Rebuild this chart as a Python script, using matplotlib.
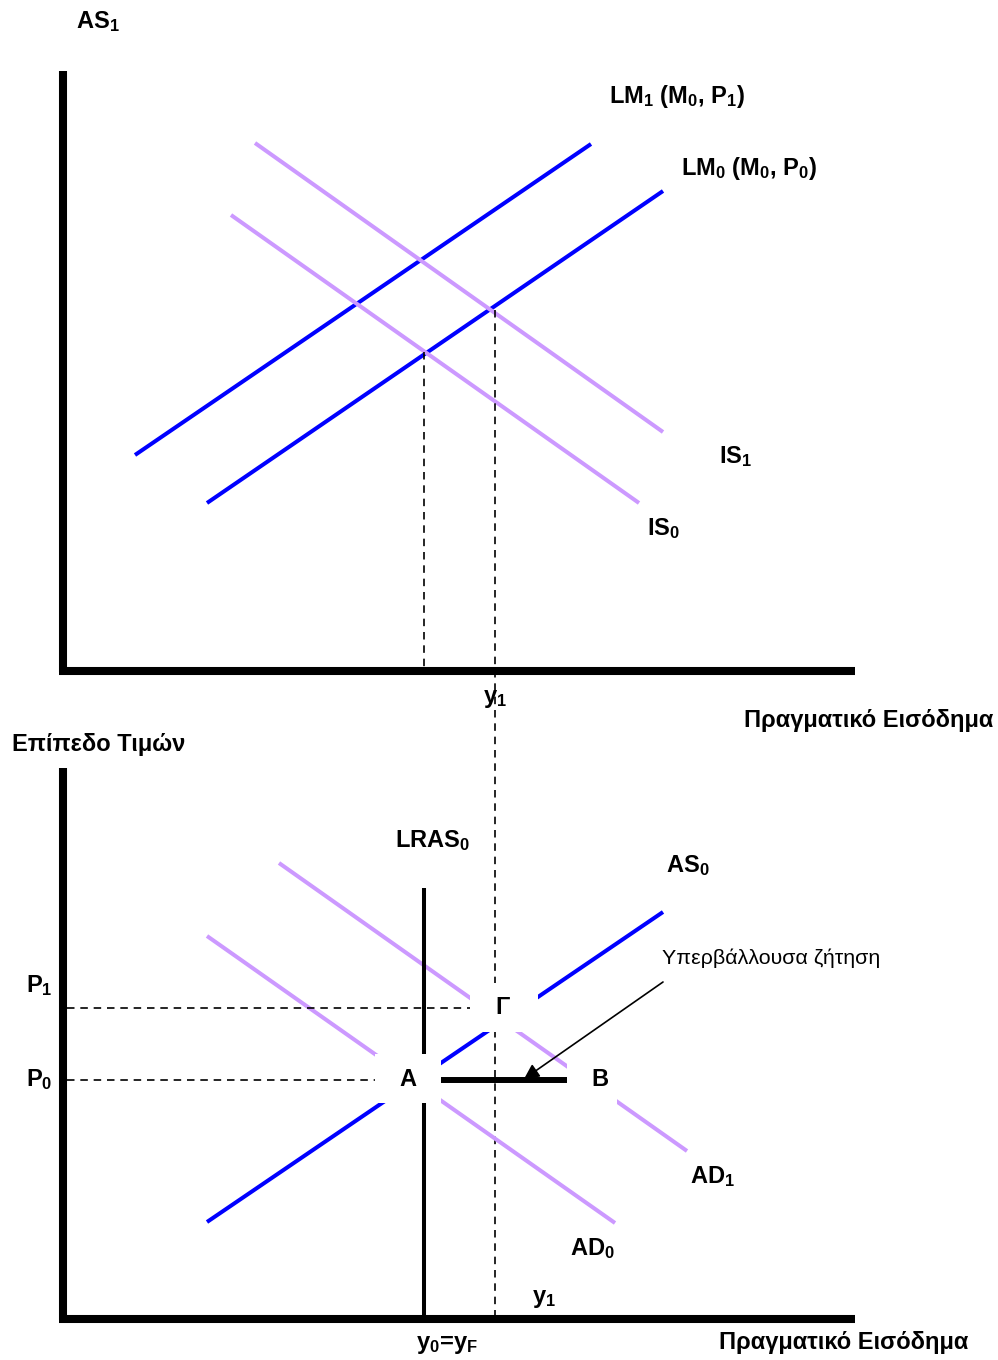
import matplotlib
matplotlib.use('Agg')
import matplotlib.pyplot as plt
import matplotlib.patches as patches

plt.rcParams['font.family'] = ['Liberation Sans', 'DejaVu Sans']
plt.rcParams['mathtext.fontset'] = 'custom'
plt.rcParams['mathtext.rm'] = 'Liberation Sans:bold'
plt.rcParams['mathtext.it'] = 'Liberation Sans:bold'
plt.rcParams['mathtext.bf'] = 'Liberation Sans:bold'
plt.rcParams['mathtext.default'] = 'bf'

# ---- diagram geometry (page pixel units, y grows downward) ----
# upper panel: IS-LM
lm_x = [[135, 591], [207, 663]]          # LM1, LM0
lm_y = [[455, 144], [503, 191]]
is_x = [[255, 663], [231, 639]]          # IS1, IS0
is_y = [[143, 432], [215, 503]]

# lower panel: AD-AS
as_x = [207, 663]
as_y = [1222, 912]
ad_x = [[279, 687], [207, 615]]          # AD1, AD0
ad_y = [[863, 1151], [936, 1223]]
lras_x = 424
lras_top = 888

# reference levels
y0_x = 424
y1_x = 495
p1_y = 1008
p0_y = 1080
excess_x = [441, 567]

BLUE = '#0000ff'
LILAC = '#cc99ff'


def main():
    fig = plt.figure(figsize=(9.98, 13.6), dpi=100)
    ax = fig.add_axes([0, 0, 1, 1])
    ax.set_xlim(0, 998)
    ax.set_ylim(1360, 0)
    ax.axis('off')

    # axes of both panels
    for top, bottom in [(71, 672), (768, 1320)]:
        ax.plot([63, 63], [top, bottom], color='black', lw=5.8,
                solid_capstyle='butt')
        ax.plot([59, 855], [bottom - 1, bottom - 1], color='black', lw=5.8,
                solid_capstyle='butt')

    # upper panel curves
    for xs, ys in zip(lm_x, lm_y):
        ax.plot(xs, ys, color=BLUE, lw=2.9, solid_capstyle='butt')
    for xs, ys in zip(is_x, is_y):
        ax.plot(xs, ys, color=LILAC, lw=2.9, solid_capstyle='butt')

    dash = dict(color='black', lw=1.2, ls=(0, (4.5, 3.5)))
    ax.plot([y0_x, y0_x], [352, 668], **dash)
    ax.plot([y1_x, y1_x], [310, 1316], **dash)

    # lower panel curves
    ax.plot(as_x, as_y, color=BLUE, lw=2.9, solid_capstyle='butt')
    for xs, ys in zip(ad_x, ad_y):
        ax.plot(xs, ys, color=LILAC, lw=2.9, solid_capstyle='butt')
    ax.plot([lras_x, lras_x], [lras_top, 1316], color='black', lw=2.9,
            solid_capstyle='butt')
    ax.plot([67, 470], [p1_y, p1_y], **dash)
    ax.plot([67, 375], [p0_y, p0_y], **dash)
    ax.plot(excess_x, [p0_y, p0_y], color='black', lw=4.3,
            solid_capstyle='butt')

    # white knock-outs behind point labels
    for (x0, y0, x1, y1) in [(375, 1054, 441, 1103),
                             (470, 983, 538, 1032),
                             (567, 1055, 617, 1104)]:
        ax.add_patch(patches.Rectangle((x0, y0), x1 - x0, y1 - y0,
                                       facecolor='white', edgecolor='none',
                                       zorder=3))

    # arrow to the excess-demand segment
    ax.annotate('', xy=(524, 1079), xytext=(663, 982),
                arrowprops=dict(arrowstyle='-|>,head_length=0.9,head_width=0.45',
                                color='black', lw=1.2, shrinkA=0, shrinkB=0),
                zorder=5)

    bold = dict(fontweight='bold', fontsize=17, zorder=6)
    labels = [
        (98, 22, 'AS$_1$', 'center'),
        (609, 97, 'LM$_1$ (M$_0$, P$_1$)', 'left'),
        (681, 169, 'LM$_0$ (M$_0$, P$_0$)', 'left'),
        (719, 457, 'IS$_1$', 'left'),
        (647, 529, 'IS$_0$', 'left'),
        (495, 698, 'y$_1$', 'center'),
        (993, 720, 'Πραγματικό Εισόδημα', 'right'),
        (12, 745, 'Επίπεδο Τιμών', 'left'),
        (395, 841, 'LRAS$_0$', 'left'),
        (666, 866, 'AS$_0$', 'left'),
        (26, 986, 'P$_1$', 'left'),
        (26, 1080, 'P$_0$', 'left'),
        (408, 1080, 'A', 'center'),
        (503, 1008, 'Γ', 'center'),
        (600, 1080, 'B', 'center'),
        (690, 1177, 'AD$_1$', 'left'),
        (570, 1249, 'AD$_0$', 'left'),
        (532, 1298, 'y$_1$', 'left'),
        (447, 1345, 'y$_0$=y$_F$', 'center'),
        (968, 1343, 'Πραγματικό Εισόδημα', 'right'),
    ]
    for x, y, s, ha in labels:
        ax.text(x, y, s, ha=ha, va='center', **bold)

    ax.text(662, 958, 'Υπερβάλλουσα ζήτηση', ha='left', va='center',
            fontsize=15.4, zorder=6)

    fig.savefig('out.png', dpi=100, facecolor='white')


if __name__ == '__main__':
    main()
